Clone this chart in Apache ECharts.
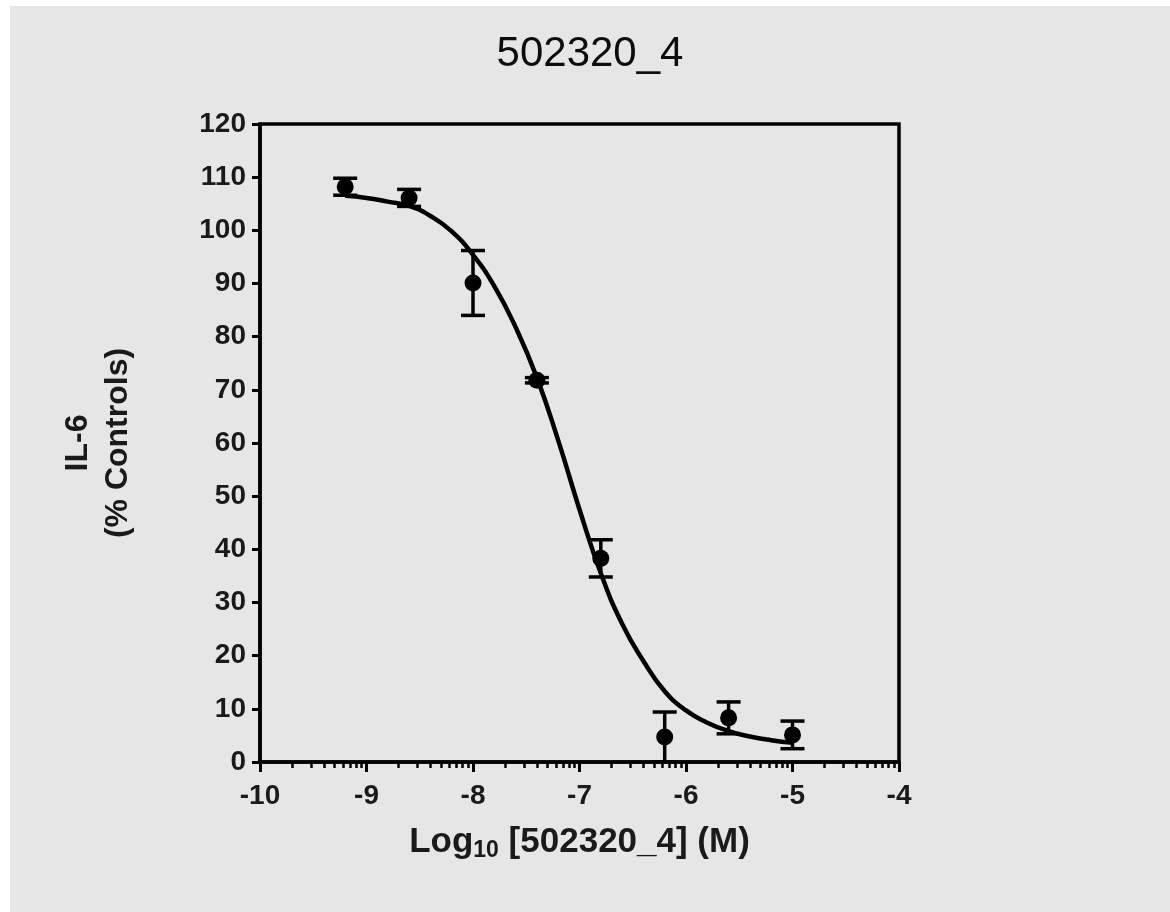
<!DOCTYPE html>
<html>
<head>
<meta charset="utf-8">
<script src="https://cdn.jsdelivr.net/npm/echarts@6/dist/echarts.min.js"></script>
<style>
    html, body { margin: 0; padding: 0; background: #fff; overflow: hidden; }
    #main { position: absolute; left: 10px; top: 6px; width: 1160px; height: 906px; }
</style>
</head>
<body>
<div id="main"></div>
<script>
// measured points (log10 concentration, % of controls, +/- error)
var doseX = [-9.2, -8.6, -8.0, -7.4, -6.8, -6.2, -5.6, -5.0];
var responseY = [108.2, 106.1, 90.1, 71.8, 38.3, 4.7, 8.3, 5.1];
var errorY = [1.6, 1.6, 6.1, 0.5, 3.5, 4.7, 3.0, 2.6];

// fitted curve
var curveX = [-9.2, -9.0, -8.8, -8.6, -8.4, -8.2, -8.0, -7.8, -7.6, -7.4, -7.2,
              -7.0, -6.8, -6.6, -6.4, -6.2, -6.0, -5.8, -5.6, -5.4, -5.2, -5.0];
var curveY = [106.5, 106.1, 105.4, 104.6, 102.7, 99.8, 95.4, 89.5, 81.8, 72.3, 60.5,
              47.5, 35.5, 26.0, 19.0, 13.3, 9.7, 7.4, 5.8, 4.8, 4.1, 3.6];

// axis ticks
var xMajor = [-10, -9, -8, -7, -6, -5, -4];
var xMinor = [];
for (var d = -10; d < -4; d++) {
    for (var k = 2; k <= 9; k++) {
        xMinor.push(d + Math.log10(k));
    }
}

var font = "'Liberation Sans', Arial, sans-serif";
var chart = echarts.init(document.getElementById('main'));

var points = doseX.map(function (x, i) { return [x, responseY[i]]; });
var bars = doseX.map(function (x, i) { return [x, responseY[i] - errorY[i], responseY[i] + errorY[i]]; });
var curve = curveX.map(function (x, i) { return [x, curveY[i]]; });

var option = {
    backgroundColor: '#e6e6e6',
    animation: false,
    title: {
        text: '502320_4',
        left: 'center',
        top: 22,
        textStyle: { fontFamily: font, fontSize: 42, fontWeight: 'normal', color: '#0d0d0d' }
    },
    grid: {
        left: 250, top: 118, width: 639, height: 638,
        show: true, borderColor: '#000', borderWidth: 3.5, backgroundColor: 'transparent'
    },
    xAxis: [
        {
            type: 'value', min: -10, max: -4, interval: 1,
            axisLine: { lineStyle: { color: '#000', width: 3.5 } },
            axisTick: { length: 10, customValues: xMajor, lineStyle: { color: '#000', width: 3 } },
            axisLabel: { fontFamily: font, fontSize: 28, fontWeight: 'bold', color: '#1a1a1a', margin: 20 },
            splitLine: { show: false },
            name: '{a|Log}{s|10}{a| [502320_4] (M)}',
            nameLocation: 'middle',
            nameGap: 60,
            nameTextStyle: {
                rich: {
                    a: { fontFamily: font, fontSize: 35, fontWeight: 'bold', color: '#1a1a1a', lineHeight: 40 },
                    s: { fontFamily: font, fontSize: 23, fontWeight: 'bold', color: '#1a1a1a', lineHeight: 26, verticalAlign: 'bottom' }
                }
            }
        },
        {
            type: 'value', min: -10, max: -4, position: 'bottom',
            axisLine: { show: false },
            axisTick: { show: true, length: 6, customValues: xMinor, lineStyle: { color: '#000', width: 2.5 } },
            axisLabel: { show: false },
            splitLine: { show: false }
        }
    ],
    yAxis: {
        type: 'value', min: 0, max: 120, interval: 10,
        axisLine: { show: true, lineStyle: { color: '#000', width: 3.5 } },
        axisTick: { show: true, length: 8, lineStyle: { color: '#000', width: 3 } },
        axisLabel: { fontFamily: font, fontSize: 28, fontWeight: 'bold', color: '#1a1a1a', margin: 14 },
        splitLine: { show: false },
        name: '{b|IL-6}\n{c|(% Controls)}',
        nameLocation: 'middle',
        nameGap: 122,
        nameRotate: 90,
        nameTextStyle: {
            rich: {
                b: { fontFamily: font, fontSize: 32, fontWeight: 'bold', color: '#1a1a1a', lineHeight: 40 },
                c: { fontFamily: font, fontSize: 32, fontWeight: 'bold', color: '#1a1a1a', lineHeight: 40 }
            }
        }
    },
    series: [
        {
            name: 'fit',
            type: 'line',
            data: curve,
            smooth: 0.5,
            showSymbol: false,
            lineStyle: { color: '#000', width: 4.5 },
            z: 2
        },
        {
            name: 'error',
            type: 'custom',
            data: bars,
            renderItem: function (params, api) {
                var x = api.value(0);
                var lo = api.coord([x, api.value(1)]);
                var hi = api.coord([x, api.value(2)]);
                var w = 12;
                var st = { stroke: '#000', lineWidth: 3.5 };
                return {
                    type: 'group',
                    children: [
                        { type: 'line', shape: { x1: lo[0], y1: lo[1], x2: hi[0], y2: hi[1] }, style: st },
                        { type: 'line', shape: { x1: hi[0] - w, y1: hi[1], x2: hi[0] + w, y2: hi[1] }, style: st },
                        { type: 'line', shape: { x1: lo[0] - w, y1: lo[1], x2: lo[0] + w, y2: lo[1] }, style: st }
                    ]
                };
            },
            z: 3
        },
        {
            name: 'mean',
            type: 'scatter',
            data: points,
            symbol: 'circle',
            symbolSize: 17,
            itemStyle: { color: '#000', opacity: 1 },
            z: 4
        }
    ]
};

option && chart.setOption(option);
</script>
</body>
</html>
